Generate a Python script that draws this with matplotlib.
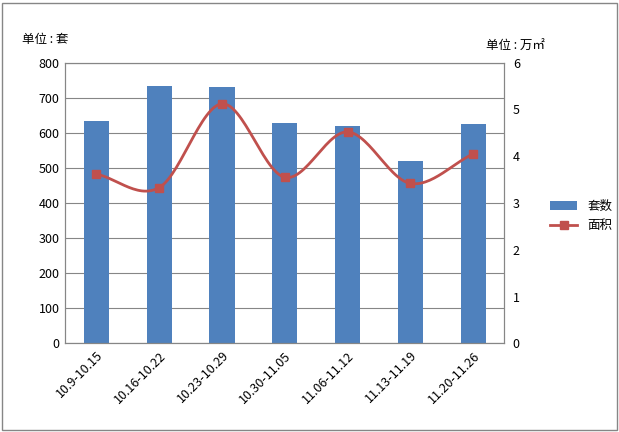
import numpy as np
import matplotlib.pyplot as plt
from matplotlib.patches import Rectangle

plt.rcParams['font.family'] = ['Noto Sans CJK SC', 'DejaVu Sans']

# ---- data ----
weeks = ["10.9-10.15", "10.16-10.22", "10.23-10.29", "10.30-11.05",
         "11.06-11.12", "11.13-11.19", "11.20-11.26"]
units = [633, 733, 730, 627, 620, 520, 624]          # 套数
area = [3.62, 3.33, 5.12, 3.55, 4.52, 3.42, 4.05]    # 面积 (万㎡)


def smooth(x, y, n=30):
    # Catmull-Rom curve through the points, like Excel's smoothed line
    x = np.asarray(x, float)
    y = np.asarray(y, float)
    px = np.concatenate([[2*x[0]-x[1]], x, [2*x[-1]-x[-2]]])
    py = np.concatenate([[2*y[0]-y[1]], y, [2*y[-1]-y[-2]]])
    xs, ys = [], []
    t = np.linspace(0, 1, n)
    for i in range(1, len(px)-2):
        for p, out in ((px, xs), (py, ys)):
            p0, p1, p2, p3 = p[i-1], p[i], p[i+1], p[i+2]
            out.extend(0.5*((2*p1) + (-p0+p2)*t + (2*p0-5*p1+4*p2-p3)*t**2
                            + (-p0+3*p1-3*p2+p3)*t**3))
    return xs, ys


fig = plt.figure(figsize=(6.19, 4.32), dpi=100)
ax = fig.add_axes([0.105, 0.205, 0.71, 0.65])
x = np.arange(len(weeks))

bars = ax.bar(x, units, width=0.4, color="#4f81bd", label="套数", zorder=2)
ax.set_ylim(0, 800)
ax.set_yticks(range(0, 801, 100))
ax.set_xlim(-0.5, len(weeks)-0.5)
ax.set_xticks(x)
ax.set_xticklabels(weeks, rotation=45, ha="right", rotation_mode="anchor")
ax.grid(axis="y", color="#868686", linewidth=0.8, zorder=0)
ax.tick_params(labelsize=9, length=0, pad=4)

ax2 = ax.twinx()
sx, sy = smooth(x, area)
ax2.plot(sx, sy, color="#c0504d", linewidth=2, zorder=3)
ax2.plot(x, area, "s", color="#c0504d", markersize=6, zorder=4)
ax2.plot([], [], color="#c0504d", marker="s", linewidth=2, label="面积")
ax2.set_ylim(0, 6)
ax2.set_yticks(range(0, 7))
ax2.tick_params(labelsize=9, length=0, pad=6)

for a in (ax, ax2):
    for s in a.spines.values():
        s.set_color("#868686")

fig.text(0.035, 0.9, "单位 : 套", fontsize=9)
fig.text(0.785, 0.885, "单位 : 万㎡", fontsize=9)

h1, l1 = ax.get_legend_handles_labels()
h2, l2 = ax2.get_legend_handles_labels()
fig.legend(h1 + h2[-1:], l1 + l2[-1:], loc="center left",
           bbox_to_anchor=(0.87, 0.5), frameon=False, fontsize=9,
           handlelength=2.2)

fig.add_artist(Rectangle((0.003, 0.004), 0.993, 0.99, transform=fig.transFigure,
                         fill=False, edgecolor="#868686", linewidth=1))

fig.savefig("out.png", dpi=100)
